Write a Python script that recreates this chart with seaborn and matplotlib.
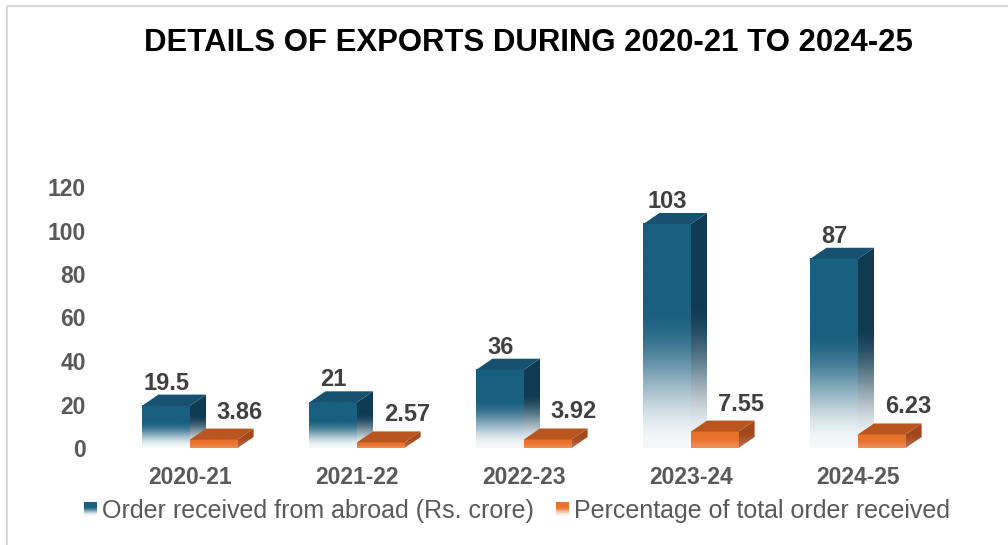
import numpy as np
import pandas as pd
import matplotlib
matplotlib.use("Agg")
import matplotlib.pyplot as plt
import seaborn as sns
from matplotlib.patches import Polygon, Rectangle
from matplotlib.colors import to_rgb
from matplotlib.legend_handler import HandlerBase
from matplotlib.lines import Line2D

# ---------------- data ----------------
years = ["2020-21", "2021-22", "2022-23", "2023-24", "2024-25"]
orders = [19.5, 21, 36, 103, 87]
percent = [3.86, 2.57, 3.92, 7.55, 6.23]
order_labels = ["19.5", "21", "36", "103", "87"]
percent_labels = ["3.86", "2.57", "3.92", "7.55", "6.23"]
series_names = ["Order received from abroad (Rs. crore)",
                "Percentage of total order received"]
yticks = [0, 20, 40, 60, 80, 100, 120]
title = "DETAILS OF EXPORTS DURING 2020-21 TO 2024-25"

# ---------------- style ----------------
BLUE_FRONT, BLUE_TOP, BLUE_SIDE = "#1a5f80", "#165170", "#0e3b52"
OR_FRONT, OR_TOP, OR_SIDE = "#e9722c", "#b9561f", "#a2471a"
TICK_COLOR = "#595959"
LABEL_COLOR = "#404040"

df = pd.DataFrame({
    "year": years * 2,
    "value": orders + percent,
    "series": [series_names[0]] * len(years) + [series_names[1]] * len(years),
})

sns.set_theme(style="white")
plt.rcParams["font.family"] = ["Liberation Sans", "DejaVu Sans"]

W, H = 1008, 545
fig = plt.figure(figsize=(W / 100, H / 100), dpi=100)
ax = fig.add_axes([106.5 / W, 1 - 448 / H, 835 / W, 261 / H])

sns.barplot(data=df, x="year", y="value", hue="series", order=years,
            hue_order=series_names, palette=[BLUE_FRONT, OR_FRONT],
            width=0.57, dodge=True, ax=ax, legend=False, errorbar=None,
            saturation=1)

ax.set_xlim(-0.5, len(years) - 0.5)
ax.set_ylim(0, 120)
ax.set_autoscale_on(False)
for s in ax.spines.values():
    s.set_visible(False)
ax.grid(False)
ax.set_xlabel("")
ax.set_ylabel("")
ax.set_yticks(yticks)
ax.set_yticklabels([str(v) for v in yticks], fontweight="bold")
ax.set_xticks(range(len(years)))
ax.set_xticklabels(years, fontweight="bold")
ax.tick_params(axis="y", length=0, pad=15, labelsize=16.5, labelcolor=TICK_COLOR)
ax.tick_params(axis="x", length=0, pad=13, labelsize=16.5, labelcolor=TICK_COLOR)

# pixel -> data conversion for the 3D depth
px_x = ax.bbox.width / (len(years))
px_y = ax.bbox.height / 120.0
DX = 16 / px_x
DY = 11 / px_y


def grad_image(color, lo, knee, n=256):
    t = np.linspace(0, 1, n)
    s = np.clip(t / knee, 0, 1)
    s = s * s * (3 - 2 * s)  # smoothstep
    f = lo + (1 - lo) * s
    c = np.array(to_rgb(color))
    img = 1 - (1 - c)[None, :] * f[:, None]
    return img[:, None, :]


def draw_3d(rect, front, top, side, z, lo, knee):
    x0 = rect.get_x()
    w = rect.get_width()
    h = rect.get_height()
    x1 = x0 + w
    rect.set_facecolor("none")
    rect.set_edgecolor("none")
    # side face
    side_poly = Polygon([(x1, 0), (x1 + DX, DY), (x1 + DX, h + DY), (x1, h)],
                        closed=True, facecolor="none", edgecolor="none", zorder=z)
    ax.add_patch(side_poly)
    im = ax.imshow(grad_image(side, lo, knee), extent=[x1, x1 + DX, 0, h + DY],
                   origin="lower", aspect="auto", zorder=z, interpolation="bilinear")
    im.set_clip_path(side_poly)
    # front face
    ax.imshow(grad_image(front, lo, knee), extent=[x0, x1, 0, h],
              origin="lower", aspect="auto", zorder=z + 0.1, interpolation="bilinear")
    # top face
    ax.add_patch(Polygon([(x0, h), (x0 + DX, h + DY), (x1 + DX, h + DY), (x1, h)],
                         closed=True, facecolor=top, edgecolor="none", zorder=z + 0.2))
    return x0, x1, h


blue_bars = ax.containers[0]
orange_bars = ax.containers[1]

for rect, lab in zip(blue_bars, order_labels):
    x0, x1, h = draw_3d(rect, BLUE_FRONT, BLUE_TOP, BLUE_SIDE, 2, 0.04, 0.62)
    ax.text((x0 + x1) / 2, h + DY + 5 / px_y, lab, ha="center", va="baseline",
            fontsize=17, fontweight="bold", color=LABEL_COLOR, zorder=10)

for rect, lab in zip(orange_bars, percent_labels):
    x0, x1, h = draw_3d(rect, OR_FRONT, OR_TOP, OR_SIDE, 4, 0.8, 0.6)
    ax.text((x0 + x1) / 2 + 26 / px_x, h + DY + 10 / px_y, lab, ha="center",
            va="baseline", fontsize=17, fontweight="bold", color=LABEL_COLOR,
            zorder=10)

# title
fig.text(528 / W, 1 - 43 / H, title, ha="center", va="center", fontsize=22.4,
         fontweight="bold", color="black")

# border lines of the chart frame
fig.add_artist(Line2D([7 / W, 1], [1 - 6 / H, 1 - 6 / H], transform=fig.transFigure,
                      color="#d9d9d9", lw=1.5))
fig.add_artist(Line2D([7 / W, 7 / W], [0, 1 - 6 / H], transform=fig.transFigure,
                      color="#d9d9d9", lw=1.5))


# legend with gradient squares
class GradHandler(HandlerBase):
    def __init__(self, color, lo, knee):
        super().__init__()
        self.color = color
        self.lo = lo
        self.knee = knee

    def create_artists(self, legend, orig_handle, xdescent, ydescent, width,
                       height, fontsize, trans):
        img = grad_image(self.color, self.lo, self.knee, n=14)[:, 0, :]
        n = len(img)
        arts = []
        for i in range(n):
            arts.append(Rectangle((-xdescent, -ydescent + i * height / n), width,
                                  height / n + 0.01, facecolor=img[i],
                                  edgecolor="none", transform=trans))
        return arts


h1 = Rectangle((0, 0), 1, 1)
h2 = Rectangle((0, 0), 1, 1)
leg_fs = 18
em = leg_fs * 100 / 72
fig.legend([h1, h2], series_names, loc="center",
           bbox_to_anchor=(517 / W, 1 - 511 / H), ncol=2, frameon=False,
           fontsize=leg_fs, labelcolor=TICK_COLOR,
           handlelength=13 / em, handleheight=13 / em, handletextpad=5 / em,
           columnspacing=22 / em, borderpad=0, borderaxespad=0,
           handler_map={h1: GradHandler(BLUE_FRONT, 0.05, 0.7),
                        h2: GradHandler(OR_FRONT, 0.1, 0.7)})

fig.savefig("out.png", dpi=100, facecolor="white")
